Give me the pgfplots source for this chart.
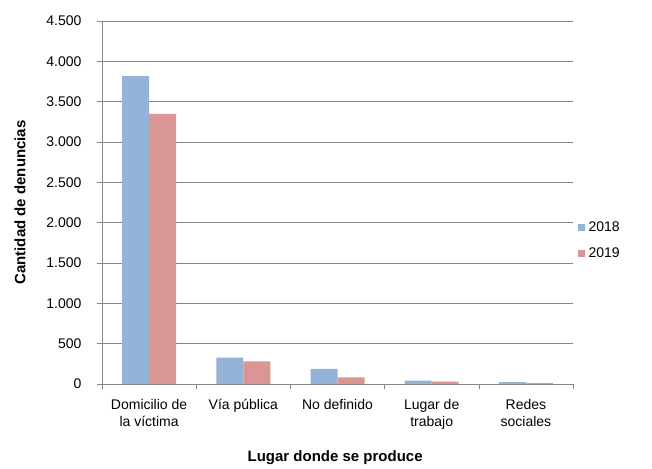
\documentclass[border=0pt]{standalone}
\usepackage{pgfplots}
\pgfplotsset{compat=1.18}
\usepackage{fontspec}
\setmainfont{Liberation Sans}
\definecolor{c18}{HTML}{95B3D7}
\definecolor{c19}{HTML}{D99694}
\definecolor{gridg}{HTML}{868686}
\begin{document}
\begin{tikzpicture}
\begin{axis}[
  at={(0,0)}, anchor=south west,
  scale only axis, width=471bp, height=363bp,
  ybar=0pt, bar width=27bp,
  xmin=-0.5, xmax=4.5, ymin=0, ymax=4500,
  axis x line*=bottom, axis y line*=left,
  axis line style={gridg, -},
  xtick={0,1,2,3,4},
  xticklabels={{Domicilio de\\la víctima},{Vía pública},{No definido},{Lugar de\\trabajo},{Redes\\sociales}},
  xticklabel style={align=center, font=\fontsize{14bp}{17bp}\selectfont, text=black, yshift=-7bp},
  major x tick style={draw=none},
  minor xtick={-0.5,0.5,1.5,2.5,3.5,4.5},
  minor x tick style={gridg, thin},
  xtick align=outside,
  ytick={0,500,...,4500},
  ytick align=outside,
  major tick length=5bp, minor tick length=5bp,
  ytick style={gridg, thin},
  ymajorgrids, grid style={gridg, thin},
  yticklabel style={font=\fontsize{14bp}{16bp}\selectfont, xshift=-12bp},
  /pgf/number format/.cd, 1000 sep={.}, assume math mode=true,
  /pgfplots/.cd,
  scaled y ticks=false,
  xlabel={Lugar donde se produce},
  ylabel={Cantidad de denuncias},
  every axis x label/.style={at={(rel axis cs:0.495,-0.204)}, anchor=center, font=\fontsize{15bp}{17bp}\bfseries},
  every axis y label/.style={at={(rel axis cs:-0.174,0.5)}, anchor=center, rotate=90, font=\fontsize{15bp}{17bp}\bfseries},
  legend style={at={(rel axis cs:1.003,0.395)}, anchor=west, draw=none, fill=none,
    font=\fontsize{14bp}{16bp}\selectfont, row sep=11bp},
  legend image code/.code={\fill[#1] (0bp,-3.5bp) rectangle (7bp,3.5bp); \path (9bp,0);},
]
\addplot[fill=c18, draw=none] coordinates {(0,3818) (1,326) (2,186) (3,42) (4,22)};
\addplot[fill=c19, draw=none] coordinates {(0,3350) (1,281) (2,83) (3,30) (4,10)};
\legend{2018,2019}
\end{axis}
\path[use as bounding box] (-102bp,-81bp) rectangle (550bp,384bp);
\end{tikzpicture}
\end{document}
